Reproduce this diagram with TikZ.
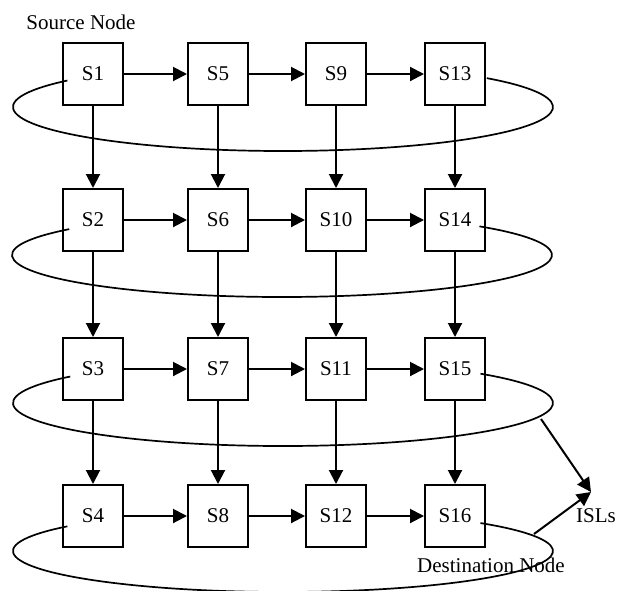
\documentclass[tikz,border=0pt]{standalone}
\usepackage{fontspec}
\setmainfont{Liberation Serif}
\usetikzlibrary{arrows.meta}
\begin{document}
\begin{tikzpicture}[x=1pt,y=-1pt,
  sat/.style={draw, line width=2pt, minimum width=60pt, minimum height=62pt, inner sep=0pt, font=\fontsize{21}{25}\selectfont},
  link/.style={line width=2pt, -{Triangle[length=14pt,width=14pt]}},
  ring/.style={line width=1.7pt},
  lbl/.style={font=\fontsize{21}{25}\selectfont, inner sep=0pt}]
\useasboundingbox (0,0) rectangle (617,590);
% satellites
\foreach \c/\x in {0/93,1/218,2/336,3/455}{
  \foreach \r/\y in {0/74,1/220,2/369,3/516}{
    \pgfmathtruncatemacro{\n}{4*\c+\r+1}
    \node[sat] (S\n) at (\x,\y) {S\n};
  }
}
% horizontal links
\foreach \r in {1,...,4}{
  \foreach \c in {0,1,2}{
    \pgfmathtruncatemacro{\a}{4*\c+\r}
    \pgfmathtruncatemacro{\b}{4*\c+\r+4}
    \draw[link] (S\a.east) -- (S\b.west);
  }
}
% vertical links
\foreach \c in {0,...,3}{
  \foreach \r in {1,2,3}{
    \pgfmathtruncatemacro{\a}{4*\c+\r}
    \pgfmathtruncatemacro{\b}{4*\c+\r+1}
    \draw[link] (S\a.south) -- (S\b.north);
  }
}
% orbit rings
\coordinate (e1) at (283,107);
\coordinate (e2) at (282,255);
\coordinate (e3) at (283,403);
\coordinate (e4) at (283,551);
\draw[ring] ([shift={(143:270pt and 44pt)}]e1) arc[start angle=143, end angle=401, x radius=270pt, y radius=44pt];
\draw[ring] ([shift={(142:270pt and 42pt)}]e2) arc[start angle=142, end angle=403, x radius=270pt, y radius=42pt];
\draw[ring] ([shift={(142:270pt and 43pt)}]e3) arc[start angle=142, end angle=403, x radius=270pt, y radius=43pt];
\draw[ring] ([shift={(143:270pt and 41pt)}]e4) arc[start angle=143, end angle=403, x radius=270pt, y radius=41pt];
% labels
\node[lbl] (src) at (81,22) {Source Node};
\node[lbl] (dst) at (491,565) {Destination Node};
\node[lbl, anchor=west] (isls) at (576,516) {ISLs};
% ISL pointers
\coordinate (isl) at (591,492);
\coordinate (i1) at (541,419);
\coordinate (i2) at (534,534);
\draw[link] (i1) -- (isl);
\draw[link] (i2) -- (isl);
\end{tikzpicture}
\end{document}
